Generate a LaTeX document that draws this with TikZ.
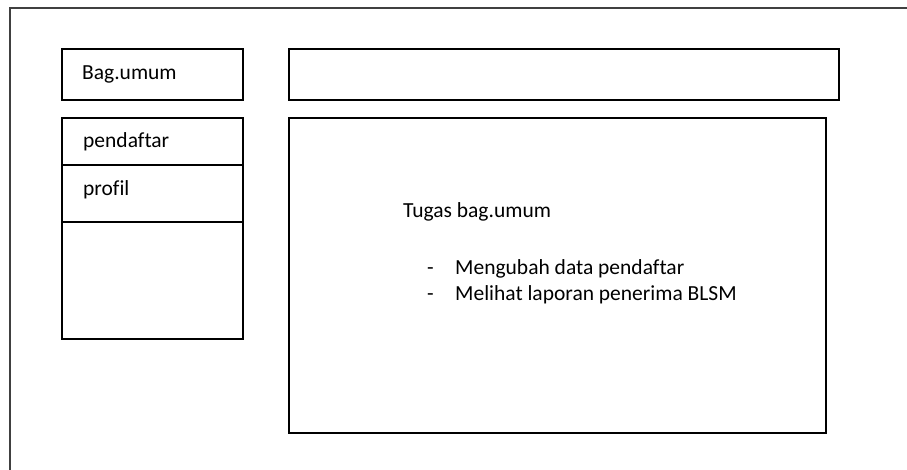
\documentclass[tikz,border=0pt]{standalone}
\usepackage{fontspec}
\setmainfont{Carlito}[Ligatures=CommonOff]
\begin{document}
\begin{tikzpicture}[x=1pt,y=-1pt,
  panel/.style={draw=black,line width=1.6pt},
  frame/.style={draw=black!75,line width=1.3pt},
  label/.style={anchor=base west,inner sep=0pt,font=\fontsize{21.5}{26}\selectfont}]
\useasboundingbox (0,0) rectangle (907,470);
% outer page frame, running off the right and bottom edges
\begin{scope}
  \clip (0,0) rectangle (907,470);
  \draw[frame] (10,8) rectangle (930,490);
\end{scope}
% header boxes
\draw[panel] (62,49) rectangle (243,100);
\draw[panel] (289,49) rectangle (839,100);
% menu column
\draw[panel] (62,118) rectangle (243,339);
\draw[panel] (62,165) -- (243,165);
\draw[panel] (62,222) -- (243,222);
% content box
\draw[panel] (289,118) rectangle (826,433);
% texts
\node[label] (title) at (82,80) {Bag.umum};
\node[label] (m1) at (83,148) {pendaftar};
\node[label] (m2) at (83,196) {profil};
\node[label] (tugas) at (403,218) {Tugas bag.umum};
\node[label] (d1) at (427,274) {-};
\node[label] (t1) at (455,274) {Mengubah data pendaftar};
\node[label] (d2) at (427,300) {-};
\node[label] (t2) at (455,300) {Melihat laporan penerima BLSM};
\end{tikzpicture}
\end{document}
